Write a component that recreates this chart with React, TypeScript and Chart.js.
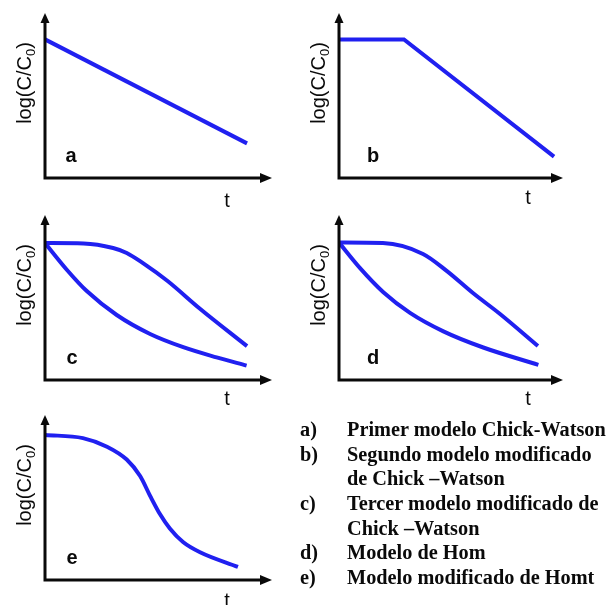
import React, { useEffect, useRef } from "react";
import { Chart, registerables } from "chart.js";

Chart.register(...registerables);

// ---------- DATA ----------
const panelLetters = ["a", "b", "c", "d", "e"];
const yAxisMain = "log(C/C";
const yAxisSub = "0";
const yAxisEnd = ")";
const xAxisLabel = "t";

// a) Primer modelo Chick-Watson
const curveA_t = [0, 8.9];
const curveA_y = [8.4, 2.1];
// b) Segundo modelo modificado (shoulder + linear)
const curveB_t = [0, 2.9, 9.6];
const curveB_y = [8.4, 8.4, 1.3];
// c) Tercer modelo modificado
const curveCUpper_t = [0, 1.7, 3.0, 3.6, 4.3, 5.4, 6.8, 8.9];
const curveCUpper_y = [8.3, 8.28, 8.0, 7.7, 7.1, 6.0, 4.35, 2.05];
const curveCLower_t = [0, 0.95, 1.84, 3.16, 4.63, 6.09, 7.56, 8.88];
const curveCLower_y = [8.3, 6.7, 5.39, 3.94, 2.79, 1.99, 1.37, 0.87];
// d) Modelo de Hom
const curveDUpper_t = [0, 1.96, 3.75, 4.82, 5.98, 7.19, 8.88];
const curveDUpper_y = [8.33, 8.3, 7.64, 6.6, 5.27, 4.0, 2.06];
const curveDLower_t = [0, 0.94, 1.98, 3.17, 4.66, 6.44, 8.9];
const curveDLower_y = [8.33, 6.78, 5.32, 4.07, 2.95, 1.97, 0.92];
// e) Modelo modificado de Hom
const curveE_t = [0, 1.67, 2.73, 3.6, 4.19, 4.63, 5.07, 5.5, 6.08, 6.83, 8.5];
const curveE_y = [8.79, 8.6, 8.08, 7.3, 6.3, 5.1, 3.98, 3.12, 2.3, 1.68, 0.79];

const legendLabels = ["a)", "b)", "c)", "d)", "e)"];
const legendTexts = [
  ["Primer modelo Chick-Watson"],
  ["Segundo modelo modificado", "de Chick \u2013Watson"],
  ["Tercer modelo modificado de", "Chick \u2013Watson"],
  ["Modelo de Hom"],
  ["Modelo modificado de Homt"],
];

const panelSeries: { t: number[]; y: number[]; curved: boolean }[][] = [
  [{ t: curveA_t, y: curveA_y, curved: false }],
  [{ t: curveB_t, y: curveB_y, curved: false }],
  [
    { t: curveCUpper_t, y: curveCUpper_y, curved: true },
    { t: curveCLower_t, y: curveCLower_y, curved: true },
  ],
  [
    { t: curveDUpper_t, y: curveDUpper_y, curved: true },
    { t: curveDLower_t, y: curveDLower_y, curved: true },
  ],
  [{ t: curveE_t, y: curveE_y, curved: true }],
];

// ---------- LAYOUT / STYLE ----------
const BLUE = "rgb(32, 32, 240)";
const INK = "#0a0a0a";
const SANS = '"Liberation Sans", Arial, Helvetica, sans-serif';
const SERIF = '"Liberation Serif", "Times New Roman", Times, serif';
const CANVAS_W = 300;
const CANVAS_H = 215;
const PAD_LEFT = 45;
const PAD_TOP = 13;

const panelLayout = [
  { axisX: 45, tipX: 272, tipY: 13, axisY: 178, letterDx: 26, tDx: 182, tDy: 29 },
  { axisX: 339, tipX: 563, tipY: 13, axisY: 178, letterDx: 34, tDx: 189, tDy: 26 },
  { axisX: 45, tipX: 272, tipY: 215, axisY: 380, letterDx: 27, tDx: 182, tDy: 25 },
  { axisX: 339, tipX: 563, tipY: 215, axisY: 380, letterDx: 34, tDx: 189, tDy: 25 },
  { axisX: 45, tipX: 272, tipY: 415, axisY: 580, letterDx: 27, tDx: 182, tDy: 27 },
];

const legendTop = 417;
const legendLineH = 24.67;
const legendLabelX = 300;
const legendTextX = 347;

const decorPlugin = {
  id: "panelDecor",
  afterDraw(chart: any, _args: any, opts: any) {
    const ctx = chart.ctx as CanvasRenderingContext2D;
    const xs = chart.scales.x;
    const ys = chart.scales.y;
    const ox = xs.getPixelForValue(0);
    const oy = ys.getPixelForValue(0);
    const ex = xs.getPixelForValue(10);
    const ty = ys.getPixelForValue(10);
    ctx.save();
    // axes
    ctx.strokeStyle = INK;
    ctx.fillStyle = INK;
    ctx.lineWidth = 3;
    ctx.lineCap = "butt";
    ctx.beginPath();
    ctx.moveTo(ox, oy + 1.5);
    ctx.lineTo(ox, ty + 6);
    ctx.moveTo(ox - 1.5, oy);
    ctx.lineTo(ex - 8, oy);
    ctx.stroke();
    // arrowheads
    ctx.beginPath();
    ctx.moveTo(ox, ty);
    ctx.lineTo(ox - 4.5, ty + 10);
    ctx.lineTo(ox + 4.5, ty + 10);
    ctx.closePath();
    ctx.fill();
    ctx.beginPath();
    ctx.moveTo(ex, oy);
    ctx.lineTo(ex - 12, oy - 5);
    ctx.lineTo(ex - 12, oy + 5);
    ctx.closePath();
    ctx.fill();
    // panel letter
    ctx.font = `bold 20px ${SANS}`;
    ctx.textAlign = "center";
    ctx.textBaseline = "alphabetic";
    ctx.fillText(opts.letter, ox + opts.letterDx, oy - 16);
    // t label
    ctx.font = `20px ${SANS}`;
    ctx.fillText(xAxisLabel, ox + opts.tDx, oy + opts.tDy);
    // y label with subscript
    ctx.translate(ox - 19, ty + 70);
    ctx.rotate(-Math.PI / 2);
    ctx.textAlign = "left";
    ctx.font = `20px ${SANS}`;
    const w1 = ctx.measureText(yAxisMain).width;
    const w3 = ctx.measureText(yAxisEnd).width;
    ctx.font = `13px ${SANS}`;
    const w2 = ctx.measureText(yAxisSub).width;
    const total = w1 + w2 + w3;
    const x0 = -total / 2;
    ctx.font = `20px ${SANS}`;
    ctx.fillText(yAxisMain, x0, 5);
    ctx.font = `13px ${SANS}`;
    ctx.fillText(yAxisSub, x0 + w1, 9);
    ctx.font = `20px ${SANS}`;
    ctx.fillText(yAxisEnd, x0 + w1 + w2, 5);
    ctx.restore();
  },
};

function Panel({ idx }: { idx: number }) {
  const ref = useRef<HTMLCanvasElement>(null);
  const L = panelLayout[idx];
  useEffect(() => {
    if (!ref.current) return;
    const plotW = L.tipX - L.axisX;
    const plotH = L.axisY - L.tipY;
    const chart = new Chart(ref.current, {
      type: "line",
      data: {
        datasets: panelSeries[idx].map((s) => ({
          data: s.t.map((t, i) => ({ x: t, y: s.y[i] })),
          borderColor: BLUE,
          backgroundColor: BLUE,
          borderWidth: 4,
          pointRadius: 0,
          pointHoverRadius: 0,
          fill: false,
          tension: 0,
          cubicInterpolationMode: s.curved ? "monotone" : "default",
          borderJoinStyle: s.curved ? "round" : "miter",
        })),
      },
      options: {
        animation: false,
        responsive: false,
        devicePixelRatio: 1,
        events: [],
        layout: {
          padding: {
            left: PAD_LEFT,
            top: PAD_TOP,
            right: CANVAS_W - PAD_LEFT - plotW,
            bottom: CANVAS_H - PAD_TOP - plotH,
          },
        },
        scales: {
          x: { type: "linear", min: 0, max: 10, display: false },
          y: { type: "linear", min: 0, max: 10, display: false },
        },
        plugins: {
          legend: { display: false },
          tooltip: { enabled: false },
          panelDecor: {
            letter: panelLetters[idx],
            letterDx: L.letterDx,
            tDx: L.tDx,
            tDy: L.tDy,
          },
        } as any,
      },
      plugins: [decorPlugin],
    } as any);
    return () => chart.destroy();
  }, [idx]);
  return (
    <canvas
      ref={ref}
      width={CANVAS_W}
      height={CANVAS_H}
      style={{
        position: "absolute",
        left: L.axisX - PAD_LEFT,
        top: L.tipY - PAD_TOP,
        width: CANVAS_W,
        height: CANVAS_H,
      }}
    />
  );
}

export default function App() {
  let line = 0;
  const rows: React.ReactNode[] = [];
  legendLabels.forEach((lab, i) => {
    legendTexts[i].forEach((txt, j) => {
      const top = legendTop + line * legendLineH;
      if (j === 0) {
        rows.push(
          <div
            key={`l${i}`}
            style={{ position: "absolute", left: legendLabelX, top, lineHeight: `${legendLineH}px`, whiteSpace: "nowrap" }}
          >
            {lab}
          </div>
        );
      }
      rows.push(
        <div
          key={`t${i}-${j}`}
          style={{ position: "absolute", left: legendTextX, top, lineHeight: `${legendLineH}px`, whiteSpace: "nowrap" }}
        >
          {txt}
        </div>
      );
      line += 1;
    });
  });
  return (
    <div
      style={{
        position: "absolute",
        left: 0,
        top: 0,
        width: 609,
        height: 605,
        overflow: "hidden",
        background: "#fff",
      }}
    >
      {panelLayout.map((_, i) => (
        <Panel key={i} idx={i} />
      ))}
      <div
        style={{
          position: "absolute",
          left: 0,
          top: 0,
          font: `bold 20.3px ${SERIF}`,
          color: INK,
        }}
      >
        {rows}
      </div>
    </div>
  );
}
